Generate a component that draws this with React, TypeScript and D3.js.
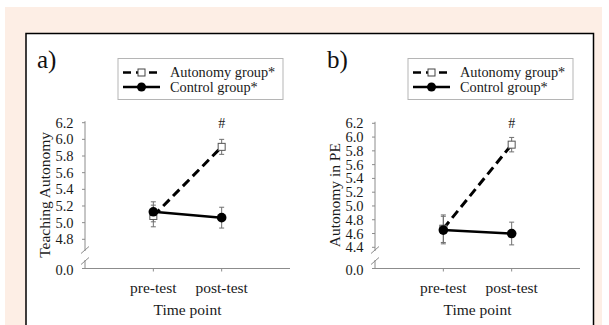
import React from "react";
import * as d3 from "d3";

const timePoints = ["pre-test", "post-test"];
const panelLabels = ["a)", "b)"];
const yTitles = ["Teaching Autonomy", "Autonomy in PE"];
const yTicksA = [4.8, 5.0, 5.2, 5.4, 5.6, 5.8, 6.0, 6.2];
const yTicksB = [4.4, 4.6, 4.8, 5.0, 5.2, 5.4, 5.6, 5.8, 6.0, 6.2];
const autonomyA = [5.08, 5.91];
const autonomyErrA = [0.13, 0.09];
const controlA = [5.13, 5.06];
const controlErrA = [0.12, 0.125];
const autonomyB = [4.67, 5.89];
const autonomyErrB = [0.2, 0.105];
const controlB = [4.65, 4.6];
const controlErrB = [0.2, 0.165];
const seriesNames = ["Autonomy group*", "Control group*"];
const sigMark = "#";

const FONT = "'Liberation Serif', 'Times New Roman', serif";

type PanelProps = {
  ox: number;
  label: string;
  title: string;
  ticks: number[];
  yTopRange: number;
  yBotRange: number;
  auto: number[];
  autoErr: number[];
  ctrl: number[];
  ctrlErr: number[];
};

function Panel(p: PanelProps) {
  const axisX = 85;
  const axisEnd = 290;
  const xAxisY = 268.5;
  const breakTop = 250;
  const breakBot = 261;
  const x = d3.scalePoint<string>().domain(timePoints).range([axisX, axisEnd]).padding(1);
  const y = d3
    .scaleLinear()
    .domain([d3.min(p.ticks)!, d3.max(p.ticks)!])
    .range([p.yBotRange, p.yTopRange]);
  const line = d3
    .line<number>()
    .x((_, i) => x(timePoints[i])!)
    .y((d) => y(d));
  const axisColor = "#8c8c8c";
  const errColor = "#707070";
  const errBar = (vals: number[], errs: number[], key: string) =>
    vals.map((v, i) => {
      const cx = x(timePoints[i])!;
      const t = y(v + errs[i]);
      const b = y(v - errs[i]);
      return (
        <g key={key + i} stroke={errColor} strokeWidth={1}>
          <line x1={cx} x2={cx} y1={t} y2={b} />
          <line x1={cx - 2.5} x2={cx + 2.5} y1={t} y2={t} />
          <line x1={cx - 2.5} x2={cx + 2.5} y1={b} y2={b} />
        </g>
      );
    });
  const legX = 118;
  const legY = 58.5;
  return (
    <g transform={`translate(${p.ox},0)`} fontFamily={FONT}>
      <text x={37} y={67.5} fontSize={25} fill="#111">
        {p.label}
      </text>
      <rect x={legX} y={legY} width={165} height={41} fill="#fff" stroke="#b5b5b5" strokeWidth={1} />
      <line x1={legX + 5} x2={legX + 42} y1={legY + 14} y2={legY + 14} stroke="#000" strokeWidth={2.5} strokeDasharray="8,5" />
      <rect x={legX + 20} y={legY + 10.5} width={7} height={7} fill="#fff" stroke="#444" strokeWidth={1} />
      <line x1={legX + 5} x2={legX + 42} y1={legY + 28.5} y2={legY + 28.5} stroke="#000" strokeWidth={2.5} />
      <circle cx={legX + 23.5} cy={legY + 28.5} r={4.5} fill="#000" />
      <text x={legX + 52} y={legY + 18.5} fontSize={14.3} fill="#1a1a1a">
        {seriesNames[0]}
      </text>
      <text x={legX + 52} y={legY + 33} fontSize={14.3} fill="#1a1a1a">
        {seriesNames[1]}
      </text>
      <line x1={axisX} x2={axisX} y1={p.yTopRange - 1.5} y2={breakTop + 1} stroke={axisColor} strokeWidth={1} />
      <line x1={axisX} x2={axisX} y1={breakBot - 1} y2={xAxisY} stroke={axisColor} strokeWidth={1} />
      <line x1={axisX - 4} x2={axisX + 4} y1={breakTop + 3.5} y2={breakTop - 3.5} stroke={axisColor} strokeWidth={1} />
      <line x1={axisX - 4} x2={axisX + 4} y1={breakBot + 3.5} y2={breakBot - 3.5} stroke={axisColor} strokeWidth={1} />
      {p.ticks.map((t) => (
        <g key={t}>
          <line x1={axisX - 3} x2={axisX} y1={y(t)} y2={y(t)} stroke={axisColor} strokeWidth={1} />
          <text x={73.5} y={y(t)} dy="0.35em" textAnchor="end" fontSize={14.5} fill="#1a1a1a">
            {t.toFixed(1)}
          </text>
        </g>
      ))}
      <line x1={axisX - 3} x2={axisX} y1={xAxisY} y2={xAxisY} stroke={axisColor} strokeWidth={1} />
      <text x={73.5} y={xAxisY + 1.5} dy="0.35em" textAnchor="end" fontSize={14.5} fill="#1a1a1a">
        {(0).toFixed(1)}
      </text>
      <line x1={axisX} x2={axisEnd} y1={xAxisY} y2={xAxisY} stroke={axisColor} strokeWidth={1} />
      {timePoints.map((tp) => (
        <g key={tp}>
          <line x1={x(tp)!} x2={x(tp)!} y1={xAxisY} y2={xAxisY + 3} stroke={axisColor} strokeWidth={1} />
          <text x={x(tp)!} y={293} textAnchor="middle" fontSize={15.5} fill="#1a1a1a">
            {tp}
          </text>
        </g>
      ))}
      <text x={(axisX + axisEnd) / 2} y={315} textAnchor="middle" fontSize={15.5} fill="#1a1a1a">
        Time point
      </text>
      <text
        transform={`translate(49.5,${(y(d3.max(p.ticks)!) + breakBot) / 2 + 3}) rotate(-90)`}
        textAnchor="middle"
        fontSize={15.5}
        fill="#1a1a1a"
      >
        {p.title}
      </text>
      {errBar(p.auto, p.autoErr, "ae")}
      {errBar(p.ctrl, p.ctrlErr, "ce")}
      <path d={line(p.auto)!} fill="none" stroke="#000" strokeWidth={3} strokeDasharray="9,5" />
      {p.auto.map((v, i) => (
        <rect
          key={"as" + i}
          x={x(timePoints[i])! - 3.5}
          y={y(v) - 3.5}
          width={7}
          height={7}
          fill="#fff"
          stroke="#555"
          strokeWidth={1}
        />
      ))}
      <path d={line(p.ctrl)!} fill="none" stroke="#000" strokeWidth={2.5} />
      {p.ctrl.map((v, i) => (
        <circle key={"cc" + i} cx={x(timePoints[i])!} cy={y(v)} r={4.8} fill="#000" />
      ))}
      <text x={x(timePoints[1])!} y={y(d3.max(p.ticks)!) + 5} textAnchor="middle" fontSize={14} fill="#1a1a1a">
        {sigMark}
      </text>
    </g>
  );
}

export default function App() {
  return (
    <svg
      width={609}
      height={325}
      style={{ position: "absolute", left: 0, top: 0, display: "block" }}
      xmlns="http://www.w3.org/2000/svg"
    >
      <rect x={0} y={0} width={609} height={325} fill="#fff" />
      <rect x={5} y={7} width={597} height={320} fill="#fdeee5" />
      <rect x={26} y={33.5} width={567.5} height={300} fill="#fff" stroke="#000" strokeWidth={1.5} />
      <Panel
        ox={0}
        label={panelLabels[0]}
        title={yTitles[0]}
        ticks={yTicksA}
        yTopRange={122.7}
        yBotRange={239.3}
        auto={autonomyA}
        autoErr={autonomyErrA}
        ctrl={controlA}
        ctrlErr={controlErrA}
      />
      <Panel
        ox={290}
        label={panelLabels[1]}
        title={yTitles[1]}
        ticks={yTicksB}
        yTopRange={123.3}
        yBotRange={247.3}
        auto={autonomyB}
        autoErr={autonomyErrB}
        ctrl={controlB}
        ctrlErr={controlErrB}
      />
    </svg>
  );
}
